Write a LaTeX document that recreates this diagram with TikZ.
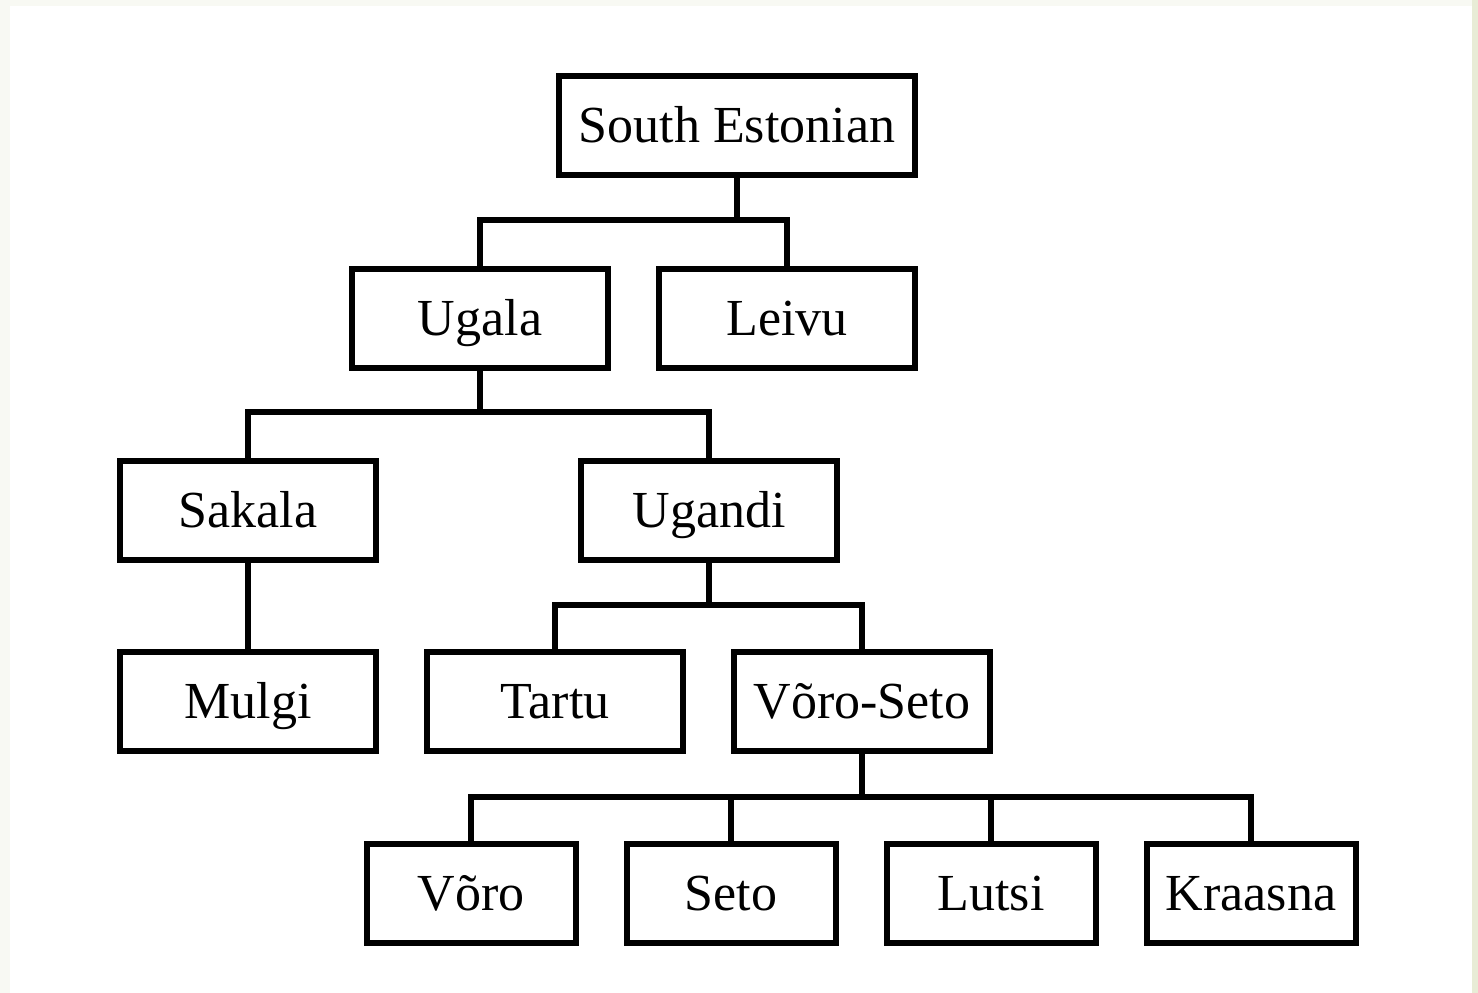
\documentclass[tikz,border=0pt]{standalone}
\usepackage{fontspec}
\setmainfont{Liberation Serif}
\definecolor{frameA}{RGB}{248,249,243}
\definecolor{frameB}{RGB}{232,236,214}
\begin{document}
\begin{tikzpicture}[x=1pt,y=-1pt,
  box/.style={draw=black, line width=6pt, fill=white, rectangle, inner sep=0pt,
    minimum height=99pt, text height=34pt, text depth=0pt,
    font=\fontsize{52}{60}\selectfont},
  wide/.style={box, minimum width=256pt},
  narrow/.style={box, minimum width=209pt},
  link/.style={line width=5.5pt, line join=miter}]
\fill[frameA] (0,0) rectangle (1478,993);
\fill[frameB] (1472,0) rectangle (1478,993);
\fill[white] (10,6) rectangle (1472,993);
\useasboundingbox (0,0) rectangle (1478,993);

\node[box, minimum width=356pt] (se) at (737,125) {South Estonian};
\node[wide] (ugala) at (480,318) {Ugala};
\node[wide] (leivu) at (787,318) {Leivu};
\node[wide] (sakala) at (248,510) {Sakala};
\node[wide] (ugandi) at (709,510) {Ugandi};
\node[wide] (mulgi) at (248,701) {Mulgi};
\node[wide] (tartu) at (555,701) {Tartu};
\node[wide] (vs) at (862,701) {Võro-Seto};
\node[narrow] (voro) at (471,893) {Võro};
\node[narrow] (seto) at (731,893) {Seto};
\node[narrow] (lutsi) at (991,893) {Lutsi};
\node[narrow] (kraasna) at (1251,893) {Kraasna};

\coordinate (b1) at (737,220);
\coordinate (b2) at (480,412);
\coordinate (b3) at (709,605);
\coordinate (b4) at (862,797);

\draw[link] (se.south) -- (b1);
\draw[link] (ugala.north) |- (b1) -| (leivu.north);
\draw[link] (ugala.south) -- (b2);
\draw[link] (sakala.north) |- (b2) -| (ugandi.north);
\draw[link] (sakala.south) -- (mulgi.north);
\draw[link] (ugandi.south) -- (b3);
\draw[link] (tartu.north) |- (b3) -| (vs.north);
\draw[link] (vs.south) -- (b4);
\draw[link] (voro.north) |- (b4) -| (kraasna.north);
\draw[link] (seto.north) -- (seto.north |- b4);
\draw[link] (lutsi.north) -- (lutsi.north |- b4);
\end{tikzpicture}
\end{document}
